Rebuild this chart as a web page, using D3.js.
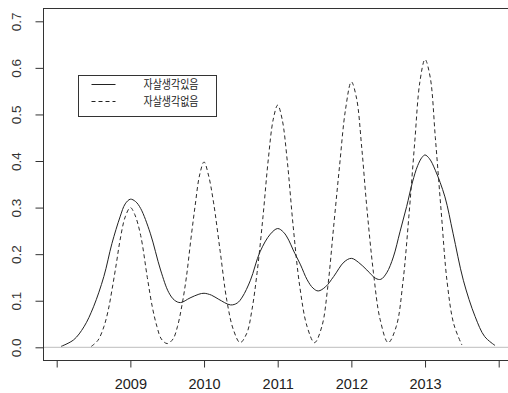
<!DOCTYPE html>
<html><head><meta charset="utf-8">
<script src="https://cdn.jsdelivr.net/npm/d3@7"></script>
<style>html,body{margin:0;padding:0;background:#fff;}svg{display:block;}</style>
</head><body>
<script>
// ---- data ----
const seriesNames = ["자살생각있음", "자살생각없음"];
const yearTicks = [2008, 2009, 2010, 2011, 2012, 2013, 2014];
const yearLabels = ["", "2009", "2010", "2011", "2012", "2013", ""];
const yTicks = [0, 0.1, 0.2, 0.3, 0.4, 0.5, 0.6, 0.7];
const yTickLabels = ["0.0", "0.1", "0.2", "0.3", "0.4", "0.5", "0.6", "0.7"];

const yesX = [2008.06,2008.23,2008.37,2008.50,2008.64,2008.75,2008.86,2008.93,2009.00,2009.07,2009.14,2009.27,2009.41,2009.52,2009.60,2009.68,2009.81,2009.93,2010.00,2010.10,2010.20,2010.36,2010.45,2010.52,2010.63,2010.76,2010.90,2011.00,2011.08,2011.15,2011.21,2011.31,2011.40,2011.48,2011.55,2011.65,2011.76,2011.90,2012.00,2012.10,2012.21,2012.33,2012.40,2012.48,2012.57,2012.66,2012.75,2012.83,2012.90,2012.96,2013.00,2013.06,2013.14,2013.27,2013.38,2013.52,2013.68,2013.81,2013.95];
const yesY = [0.002,0.016,0.044,0.087,0.152,0.223,0.280,0.308,0.318,0.313,0.298,0.245,0.166,0.118,0.101,0.096,0.106,0.114,0.116,0.112,0.103,0.091,0.095,0.108,0.144,0.205,0.243,0.255,0.247,0.230,0.209,0.177,0.145,0.127,0.121,0.130,0.152,0.183,0.191,0.182,0.166,0.148,0.146,0.160,0.194,0.248,0.302,0.355,0.390,0.408,0.413,0.405,0.380,0.323,0.245,0.144,0.066,0.023,0.004];

const noX = [2008.47,2008.56,2008.64,2008.70,2008.75,2008.81,2008.86,2008.93,2009.00,2009.06,2009.14,2009.23,2009.30,2009.36,2009.42,2009.50,2009.58,2009.64,2009.70,2009.76,2009.82,2009.88,2009.94,2010.00,2010.06,2010.13,2010.22,2010.31,2010.40,2010.49,2010.58,2010.65,2010.72,2010.80,2010.87,2010.94,2011.00,2011.06,2011.13,2011.21,2011.30,2011.40,2011.50,2011.60,2011.68,2011.76,2011.84,2011.92,2012.00,2012.07,2012.14,2012.21,2012.30,2012.39,2012.50,2012.61,2012.70,2012.78,2012.86,2012.93,2013.00,2013.07,2013.14,2013.22,2013.30,2013.39,2013.50];
const noY = [0.002,0.015,0.044,0.080,0.123,0.180,0.230,0.280,0.300,0.285,0.240,0.150,0.085,0.045,0.018,0.008,0.018,0.045,0.090,0.150,0.230,0.305,0.370,0.398,0.370,0.310,0.205,0.100,0.037,0.010,0.030,0.080,0.160,0.280,0.400,0.490,0.520,0.490,0.400,0.260,0.130,0.044,0.010,0.045,0.130,0.260,0.390,0.510,0.570,0.535,0.430,0.300,0.160,0.060,0.010,0.045,0.140,0.280,0.440,0.570,0.618,0.580,0.450,0.290,0.140,0.050,0.005];

// ---- layout ----
const W = 508, H = 393;
const svg = d3.select("body").append("svg").attr("width", W).attr("height", H);
const font = "'Liberation Sans', Arial, sans-serif";

const x = d3.scaleLinear().domain([2008, 2014]).range([56.7, 498.7]);
const y = d3.scaleLinear().domain([0, 0.7]).range([347.3, 21.3]);

const boxL = 43, boxT = 8, boxB = 360, boxR = 530;

// zero reference line
svg.append("line").attr("x1", boxL).attr("x2", W).attr("y1", y(0)).attr("y2", y(0))
  .attr("stroke", "#bdbdbd").attr("stroke-width", 1);

// box
svg.append("rect").attr("x", boxL + 0.5).attr("y", boxT + 0.5)
  .attr("width", boxR - boxL).attr("height", boxB - boxT)
  .attr("fill", "none").attr("stroke", "#333").attr("stroke-width", 1);

// y axis
const yAxis = d3.axisLeft(y).tickValues(yTicks).tickSize(8)
  .tickFormat((d, i) => yTickLabels[i]);
const gy = svg.append("g").attr("transform", `translate(${boxL + 0.5},0)`).call(yAxis);
gy.select(".domain").remove();
gy.selectAll(".tick line").attr("stroke", "#333");
gy.selectAll(".tick text").attr("x", null).attr("dy", null)
  .attr("transform", "translate(-23,0) rotate(-90)")
  .attr("text-anchor", "middle").attr("font-family", font).attr("font-size", 13.5).attr("fill", "#333");

// x axis
const xAxis = d3.axisBottom(x).tickValues(yearTicks).tickSize(7)
  .tickFormat((d, i) => yearLabels[i]);
const gx = svg.append("g").attr("transform", `translate(0,${boxB + 0.5})`).call(xAxis);
gx.select(".domain").remove();
gx.selectAll(".tick line").attr("stroke", "#333");
gx.selectAll(".tick text").attr("y", 18).attr("dy", "0.71em")
  .attr("font-family", font).attr("font-size", 14.5).attr("fill", "#222");

// curves
const line = d3.line().x(d => x(d[0])).y(d => y(d[1])).curve(d3.curveCatmullRom.alpha(0.5));
const yesData = yesX.map((v, i) => [v, yesY[i]]);
const noData = noX.map((v, i) => [v, noY[i]]);
svg.append("path").datum(yesData).attr("d", line).attr("fill", "none")
  .attr("stroke", "#222").attr("stroke-width", 1);
svg.append("path").datum(noData).attr("d", line).attr("fill", "none")
  .attr("stroke", "#2a2a2a").attr("stroke-width", 1).attr("stroke-dasharray", "4,3");

// legend
const lg = svg.append("g");
lg.append("rect").attr("x", 78.5).attr("y", 75.5).attr("width", 138).attr("height", 41)
  .attr("fill", "#fff").attr("stroke", "#333").attr("stroke-width", 1);
const rows = [{name: seriesNames[0], dash: null, yy: 84.5}, {name: seriesNames[1], dash: "4,3", yy: 101.5}];
rows.forEach(r => {
  lg.append("line").attr("x1", 91.5).attr("x2", 115.5).attr("y1", r.yy).attr("y2", r.yy)
    .attr("stroke", "#222").attr("stroke-width", 1).attr("stroke-dasharray", r.dash);
  lg.append("text").attr("x", 143.5).attr("y", r.yy).attr("dy", "0.36em")
    .attr("font-family", "'Noto Sans CJK KR', sans-serif").attr("font-size", 12)
    .attr("textLength", 55).attr("lengthAdjust", "spacingAndGlyphs")
    .attr("fill", "#222").text(r.name);
});
</script>
</body></html>
